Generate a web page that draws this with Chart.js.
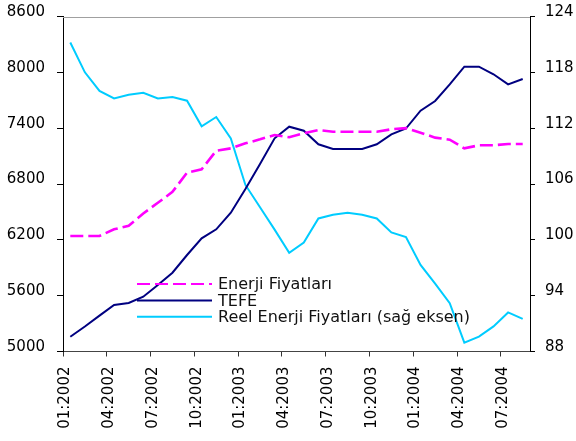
<!DOCTYPE html>
<html>
<head>
<meta charset="utf-8">
<script src="https://cdn.jsdelivr.net/npm/chart.js@4.4.1/dist/chart.umd.min.js"></script>
<style>
  html, body { margin: 0; padding: 0; background: #fff; }
  #wrap { width: 576px; height: 441px; }
</style>
</head>
<body>
<div id="wrap"><canvas id="chart" width="576" height="441"></canvas></div>
<script>
const months = [
  '01:2002', '02:2002', '03:2002', '04:2002', '05:2002', '06:2002', '07:2002', '08:2002',
  '09:2002', '10:2002', '11:2002', '12:2002', '01:2003', '02:2003', '03:2003', '04:2003',
  '05:2003', '06:2003', '07:2003', '08:2003', '09:2003', '10:2003', '11:2003', '12:2003',
  '01:2004', '02:2004', '03:2004', '04:2004', '05:2004', '06:2004', '07:2004', '08:2004'
];

const enerji = [6241, 6241, 6241, 6313, 6352, 6483, 6598, 6715, 6922, 6958, 7158, 7183,
  7237, 7280, 7327, 7302, 7345, 7380, 7362, 7362, 7362, 7362, 7388, 7400,
  7351, 7298, 7276, 7183, 7216, 7216, 7230, 7230];

const tefe = [5159, 5269, 5385, 5500, 5521, 5589, 5715, 5847, 6037, 6216, 6313, 6492,
  6746, 7015, 7291, 7416, 7373, 7227, 7176, 7176, 7176, 7227, 7334, 7396,
  7588, 7692, 7871, 8061, 8061, 7979, 7871, 7928];

const reel = [121.2, 118.0, 116.0, 115.2, 115.6, 115.8, 115.2, 115.35, 114.95, 112.2, 113.2, 110.9,
  105.9, 103.5, 101.1, 98.6, 99.7, 102.3, 102.7, 102.9, 102.7, 102.3, 100.8, 100.3,
  97.3, 95.3, 93.2, 88.95, 89.6, 90.7, 92.2, 91.5];

const leftAxis = { min: 5000, max: 8600, step: 600 };
const rightAxis = { min: 88, max: 124, step: 6 };

Chart.defaults.font.family = '"DejaVu Sans", Verdana, sans-serif';
Chart.defaults.font.size = 15;
Chart.defaults.color = '#000';

// gray top edge of the plot area
const frameTop = {
  id: 'frameTop',
  beforeDatasetsDraw(chart) {
    const { ctx, chartArea } = chart;
    ctx.save();
    ctx.strokeStyle = '#a0a0a0';
    ctx.lineWidth = 1;
    ctx.beginPath();
    ctx.moveTo(chartArea.left, Math.round(chartArea.top) + 0.5);
    ctx.lineTo(chartArea.right, Math.round(chartArea.top) + 0.5);
    ctx.stroke();
    ctx.restore();
  }
};

// legend sits inside the plot, like the Excel one
const innerLegend = {
  id: 'innerLegend',
  afterDraw(chart) {
    const { ctx, chartArea } = chart;
    const x0 = chartArea.left + 74;
    const x1 = x0 + 75;
    chart.data.datasets.forEach((ds, i) => {
      const y = chartArea.top + 267.5 + i * 16.4;
      ctx.save();
      ctx.strokeStyle = ds.borderColor;
      ctx.lineWidth = 2;
      ctx.setLineDash(ds.borderDash || []);
      ctx.beginPath();
      ctx.moveTo(x0, y);
      ctx.lineTo(x1, y);
      ctx.stroke();
      ctx.setLineDash([]);
      ctx.fillStyle = '#111';
      ctx.font = '16px "DejaVu Sans", Verdana, sans-serif';
      ctx.textBaseline = 'middle';
      ctx.fillText(ds.label, x1 + 6, y + 1);
      ctx.restore();
    });
  }
};

function noPad(scale) {
  scale.paddingTop = 0;
  scale.paddingBottom = 0;
}

new Chart(document.getElementById('chart'), {
  type: 'line',
  data: {
    labels: months,
    datasets: [
      {
        label: 'Enerji Fiyatları',
        data: enerji,
        yAxisID: 'y',
        borderColor: '#ff00ff',
        borderWidth: 2.6,
        borderDash: [13, 5],
        pointRadius: 0,
        tension: 0
      },
      {
        label: 'TEFE',
        data: tefe,
        yAxisID: 'y',
        borderColor: '#000080',
        borderWidth: 2,
        pointRadius: 0,
        tension: 0
      },
      {
        label: 'Reel Enerji Fiyatları (sağ eksen)',
        data: reel,
        yAxisID: 'y1',
        borderColor: '#00ccff',
        borderWidth: 2,
        pointRadius: 0,
        tension: 0
      }
    ]
  },
  options: {
    responsive: false,
    animation: false,
    layout: { padding: { top: 16.5, left: 0, right: 0, bottom: 0 } },
    plugins: {
      legend: { display: false },
      tooltip: { enabled: false }
    },
    scales: {
      x: {
        type: 'category',
        offset: true,
        afterFit(scale) {
          scale.height = 89.5;
          scale.paddingLeft = 0;
          scale.paddingRight = 0;
        },
        grid: {
          offset: true,
          drawOnChartArea: false,
          tickLength: 5,
          tickColor: (c) => (c.index % 3 === 0 && c.index < months.length ? '#333' : 'rgba(0,0,0,0)')
        },
        border: { color: '#444', width: 1 },
        ticks: {
          autoSkip: false,
          maxRotation: 90,
          minRotation: 90,
          padding: 10,
          labelOffset: -5,
          callback: (v, i) => (i % 3 === 0 ? months[i] : '')
        }
      },
      y: {
        position: 'left',
        min: leftAxis.min,
        max: leftAxis.max,
        afterFit(scale) { scale.width = 63; noPad(scale); },
        grid: { drawOnChartArea: false, tickLength: 6, tickColor: '#000' },
        border: { color: '#000', width: 1 },
        ticks: { stepSize: leftAxis.step, padding: 12, labelOffset: -4.5, callback: (v) => String(v) }
      },
      y1: {
        position: 'right',
        min: rightAxis.min,
        max: rightAxis.max,
        afterFit(scale) { scale.width = 46; noPad(scale); },
        grid: { drawOnChartArea: false, tickLength: 5, tickColor: '#000' },
        border: { color: '#000', width: 1 },
        ticks: { stepSize: rightAxis.step, padding: 10, labelOffset: -4.5, callback: (v) => String(v) }
      }
    }
  },
  plugins: [frameTop, innerLegend]
});
</script>
</body>
</html>
